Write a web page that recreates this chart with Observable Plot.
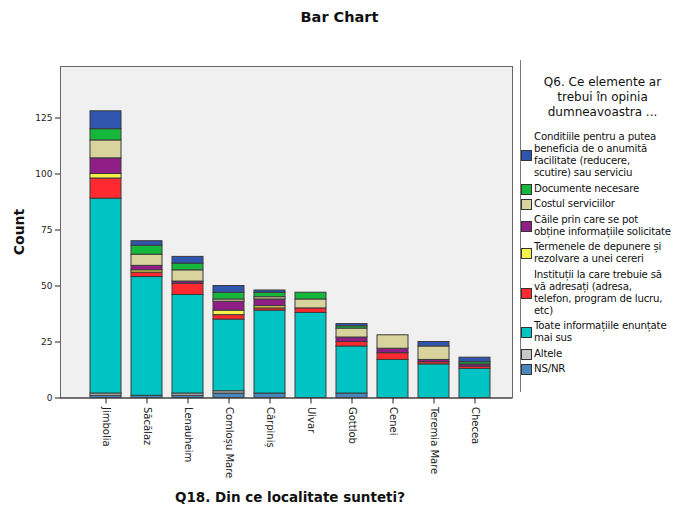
<!DOCTYPE html>
<html><head><meta charset="utf-8">
<script src="https://cdn.jsdelivr.net/npm/d3@7"></script>
<script src="https://cdn.jsdelivr.net/npm/@observablehq/plot@0.6"></script>
<style>
body{margin:0;background:#fff;font-family:"DejaVu Sans",sans-serif;color:#111;}
#wrap{position:relative;width:679px;height:510px;overflow:hidden;}
#chart{position:absolute;left:0;top:0;}
#title{position:absolute;left:0;width:679px;top:9px;text-align:center;font-weight:bold;font-size:14.5px;}
#ylab{position:absolute;left:19px;top:232px;transform:translate(-50%,-50%) rotate(-90deg);font-weight:bold;font-size:14px;white-space:nowrap;}
#xlab{position:absolute;left:290px;top:497px;transform:translate(-50%,-50%);font-weight:bold;font-size:13.5px;white-space:nowrap;}
#legend{position:absolute;left:520px;top:60px;width:159px;height:332px;border-left:1px solid #777;}
#ltitle{margin-top:15px;text-align:center;font-size:12px;line-height:15px;padding-left:4px;white-space:nowrap;}
#litems{position:absolute;left:0;top:71px;}
.item{position:relative;margin-bottom:3.5px;font-size:10.2px;letter-spacing:-0.2px;line-height:12px;padding-left:13px;white-space:nowrap;}
.sw{position:absolute;left:0;top:50%;width:9px;height:9px;margin-top:-5px;border:1px solid #333;}
</style></head><body>
<div id="wrap">
  <div id="chart"></div>
  <div id="title">Bar Chart</div>
  <div id="ylab">Count</div>
  <div id="xlab">Q18. Din ce localitate sunteti?</div>
  <div id="legend">
    <div id="ltitle">Q6. Ce elemente ar<br>trebui în opinia<br>dumneavoastra ...</div>
    <div id="litems"></div>
  </div>
</div>
<script>
// Categories (x axis)
const categories = ["Jimbolia","Săcălaz","Lenauheim","Comloșu Mare","Cărpiniș","Uivar","Gottlob","Cenei","Teremia Mare","Checea"];

// Legend labels (top to bottom) with line breaks as in the original
const seriesLabels = [
  "Conditiile pentru a putea<br>beneficia de o anumită<br>facilitate (reducere,<br>scutire) sau serviciu",
  "Documente necesare",
  "Costul serviciilor",
  "Căile prin care se pot<br>obține informațiile solicitate",
  "Termenele de depunere și<br>rezolvare a unei cereri",
  "Instituții la care trebuie să<br>vă adresați (adresa,<br>telefon, program de lucru,<br>etc)",
  "Toate informațiile enunțate<br>mai sus",
  "Altele",
  "NS/NR"
];
const seriesNames = seriesLabels.map(s => s.replace(/<br>/g, " "));
const seriesColors = ["#2f55ae","#16b83b","#d9d49e","#8f1f87","#f5f24c","#ff2a2f","#00c4c3","#c8c8c8","#4a86be"];

// Series values per category (same order as categories)
const conditii    = [8,2,3,3,1,0,1,0,2,2];
const documente   = [5,4,3,3,2,3,1,0,0,1];
const costul      = [8,5,5,1,1,4,4,6,6,0];
const caile       = [7,2,1,4,3,0,2,2,1,1];
const termenele   = [2,1,0,2,1,0,0,0,0,0];
const institutii  = [9,2,5,2,1,2,2,3,1,1];
const toate       = [87,53,44,32,37,38,21,17,15,13];
const altele      = [1,0,1,1,0,0,0,0,0,0];
const nsnr        = [1,1,1,2,2,0,2,0,0,0];

const seriesValues = [conditii, documente, costul, caile, termenele, institutii, toate, altele, nsnr];

// stack bottom -> top is reverse legend order
const data = [];
for (let s = seriesNames.length - 1; s >= 0; s--) {
  categories.forEach((c, i) => {
    const v = seriesValues[s][i];
    if (v > 0) data.push({category: c, series: seriesNames[s], value: v});
  });
}
const stackOrder = seriesNames.slice().reverse();

const chart = Plot.plot({
  width: 679,
  height: 510,
  marginTop: 66,
  marginBottom: 112.5,
  marginLeft: 60,
  marginRight: 167,
  style: {fontFamily: "DejaVu Sans, sans-serif", fontSize: "10px", color: "#222", background: "transparent"},
  x: {type: "band", domain: categories, range: [64.3, 515.5], paddingInner: 0.247, paddingOuter: 0.6},
  y: {domain: [0, 148]},
  color: {domain: seriesNames, range: seriesColors},
  marks: [
    Plot.frame({fill: "#f0f0f0", stroke: "none"}),
    Plot.barY(data, {x: "category", y: "value", fill: "series", order: stackOrder, stroke: "#3a3a3a", strokeWidth: 1}),
    Plot.frame({stroke: "#666", strokeWidth: 1}),
    Plot.ruleY([0], {stroke: "#333"}),
    Plot.axisY({ticks: [0,25,50,75,100,125], tickSize: 5, tickPadding: 3, fontSize: 9, label: null}),
    Plot.axisX({tickRotate: 90, tickSize: 6, tickPadding: 3, fontSize: 10, label: null})
  ]
});
document.getElementById("chart").appendChild(chart);

const li = document.getElementById("litems");
seriesLabels.forEach((lab, i) => {
  const d = document.createElement("div");
  d.className = "item";
  d.innerHTML = `<span class="sw" style="background:${seriesColors[i]}"></span>${lab}`;
  li.appendChild(d);
});
</script>
</body></html>
